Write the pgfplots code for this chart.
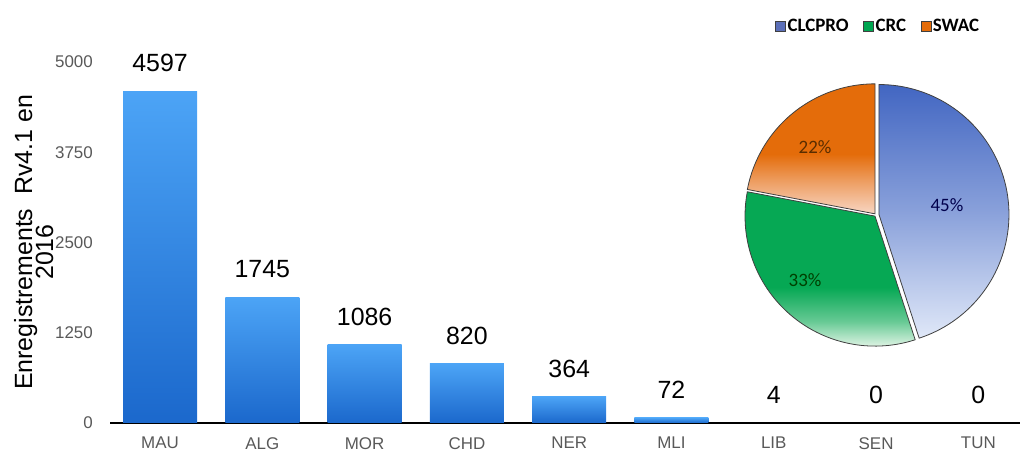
\documentclass[border=0pt]{standalone}
\usepackage{fontspec}
\setmainfont{Liberation Sans}
\newfontfamily\calibri{Carlito}
\usepackage{pgfplots}
\pgfplotsset{compat=1.18}
\definecolor{barTop}{HTML}{4CA4F6}
\definecolor{barBot}{HTML}{1B68CC}
\definecolor{tickgray}{HTML}{595959}
\definecolor{blueTop}{HTML}{4266C2}
\definecolor{blueBot}{HTML}{E0E8F8}
\definecolor{greenTop}{HTML}{06A854}
\definecolor{greenBot}{HTML}{DDF3E3}
\definecolor{orTop}{HTML}{E46C0A}
\definecolor{orBot}{HTML}{F8D6C4}
\definecolor{clcLeg}{HTML}{5B6FB8}
\definecolor{crcLeg}{HTML}{00A651}
\definecolor{swacLeg}{HTML}{E46C0A}
\pgfdeclareverticalshading{greenpie}{100bp}{color(0bp)=(greenBot); color(25bp)=(greenBot); color(33bp)=(greenTop!55!greenBot); color(44bp)=(greenTop); color(75bp)=(greenTop); color(100bp)=(greenTop)}
\pgfdeclareverticalshading{orangepie}{100bp}{color(0bp)=(orBot); color(25bp)=(orBot); color(38bp)=(orTop!55!orBot); color(48bp)=(orTop); color(75bp)=(orTop); color(100bp)=(orTop)}
\pgfdeclareverticalshading{bluepie}{100bp}{color(0bp)=(blueBot); color(25bp)=(blueBot); color(50bp)=(blueTop!55!blueBot); color(75bp)=(blueTop); color(100bp)=(blueTop)}
\def\pA{45}\def\pB{33}\def\pC{22}
\pgfplotsset{onebar/.style={draw=none, top color=barTop, bottom color=barBot}}
\begin{document}
\begin{tikzpicture}
\path[use as bounding box] (0bp,0bp) rectangle (1020bp,452bp);
\begin{axis}[
  at={(110bp,29bp)}, anchor=south west, scale only axis,
  width=910bp, height=361bp,
  xmin=-0.489, xmax=8.407, ymin=0, ymax=5000,
  ybar, bar width=74bp, bar shift=0pt,
  axis x line*=bottom, axis y line*=left,
  y axis line style={draw=none},
  x axis line style={line width=2bp, black},
  xtick={0,1,2,3,4,5,6,7,8},
  xticklabels={MAU,ALG,MOR,CHD,NER,MLI,LIB,SEN,TUN},
  ytick={0,1250,2500,3750,5000},
  major tick length=0pt, tick style={draw=none},
  xticklabel style={font=\fontsize{17}{20}\selectfont, text=tickgray, anchor=north, inner sep=0pt},
  xticklabel shift=14bp,
  yticklabel style={font=\fontsize{17}{20}\selectfont, text=tickgray, anchor=east, inner sep=0pt},
  yticklabel shift=17bp,
  /pgf/number format/assume math mode=true,
  /pgf/number format/1000 sep={},
  nodes near coords,
  every node near coord/.append style={font=\fontsize{25}{28}\selectfont, text=black, inner sep=0pt, yshift=19bp, anchor=south},
  clip=false,
]
\addplot[onebar] coordinates {(0,4597)};
\addplot[onebar] coordinates {(1,1745)};
\addplot[onebar] coordinates {(2,1086)};
\addplot[onebar] coordinates {(3,820)};
\addplot[onebar] coordinates {(4,364)};
\addplot[onebar] coordinates {(5,72)};
\addplot[onebar] coordinates {(6,4)};
\addplot[onebar] coordinates {(7,0)};
\addplot[onebar] coordinates {(8,0)};
\end{axis}
\node[rotate=90, anchor=base, inner sep=0pt, font=\fontsize{25}{28}\selectfont] at (32bp,209.5bp) {Enregistrements\ \ Rv4.1 en};
\node[rotate=90, anchor=base, inner sep=0pt, font=\fontsize{25}{28}\selectfont] at (53bp,200bp) {2016};
\begin{axis}[
  at={(876bp,237bp)}, anchor=center, scale only axis,
  width=286bp, height=286bp,
  xmin=-1.1, xmax=1.1, ymin=-1.1, ymax=1.1,
  hide axis, clip=false,
  legend image code/.code={\draw[#1, draw=black!75, line width=0.8bp] (0bp,-5bp) rectangle (10bp,5bp);},
  legend columns=3,
  legend style={draw=none, fill=none, at={(axis description cs:0.507,1.160)}, anchor=center,
    font=\calibri\bfseries\fontsize{19}{21}\selectfont,
    /tikz/every even column/.append style={column sep=13bp},
    nodes={inner sep=1.5bp}},
]
\addlegendimage{fill=clcLeg}\addlegendentry{CLCPRO}
\addlegendimage{fill=crcLeg}\addlegendentry{CRC}
\addlegendimage{fill=swacLeg}\addlegendentry{SWAC}
% CLCPRO 45%
\addplot[forget plot, draw=black!75, line width=0.8bp, shading=bluepie,
  domain={90-3.6*\pA}:90, samples=80]
  ({0.0228+cos(x)},{0.0036+sin(x)}) -- (axis cs:0.0228,0.0036) -- cycle;
% CRC 33%
\addplot[forget plot, draw=black!75, line width=0.8bp, shading=greenpie,
  domain={90-3.6*(\pA+\pB)}:{90-3.6*\pA}, samples=70]
  ({-0.0076+cos(x)},{-0.0086+sin(x)}) -- (axis cs:-0.0076,-0.0086) -- cycle;
% SWAC 22%
\addplot[forget plot, draw=black!75, line width=0.8bp, shading=orangepie,
  domain=90:{90+3.6*\pC}, samples=50]
  ({-0.0073+cos(x)},{0.0089+sin(x)}) -- (axis cs:-0.0073,0.0089) -- cycle;
\node[font=\calibri\fontsize{19}{21}\selectfont, text=blue!30!black] at (axis cs:0.546,0.077) {45\%};
\node[font=\calibri\fontsize{19}{21}\selectfont, text=orange!35!black] at (axis cs:-0.469,0.523) {22\%};
\node[font=\calibri\fontsize{19}{21}\selectfont, text=green!25!black] at (axis cs:-0.546,-0.5) {33\%};
\end{axis}
\end{tikzpicture}
\end{document}
